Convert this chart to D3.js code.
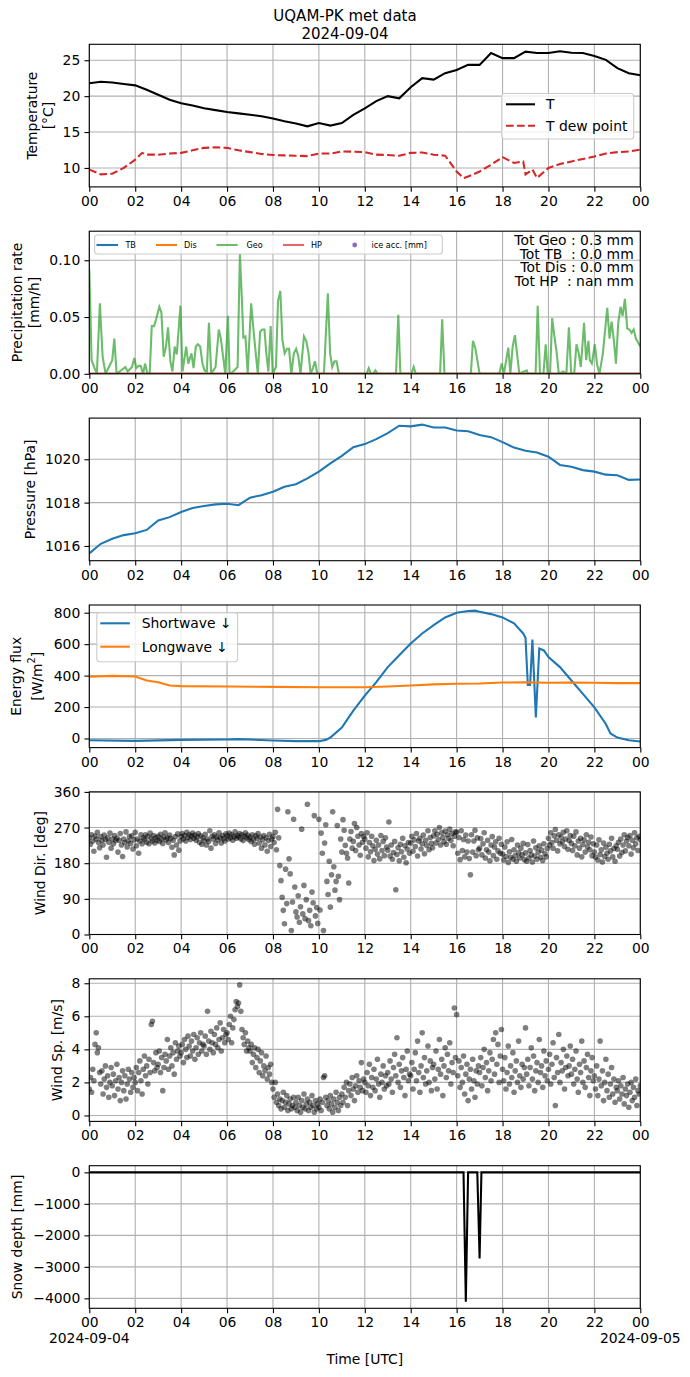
<!DOCTYPE html>
<html>
<head>
<meta charset="utf-8">
<script src="https://cdn.jsdelivr.net/npm/d3@7"></script>
<style>
  body { margin: 0; background: #fff; }
  svg { display: block; font-family: "DejaVu Sans", sans-serif; }
</style>
</head>
<body>
<svg width="690" height="1377"></svg>
<script>
// ---- data (hours UTC from 2024-09-04 00:00) ----
const halfHours = d3.range(0, 24.01, 0.5);
const tempT = [21.8, 22.0, 21.9, 21.7, 21.5, 20.9, 20.2, 19.5, 19.0, 18.7, 18.3, 18.05, 17.8, 17.6, 17.4, 17.2,
  16.9, 16.5, 16.2, 15.8, 16.25, 15.9, 16.25, 17.4, 18.3, 19.3, 20.0, 19.7, 21.25, 22.5, 22.3, 23.2, 23.65,
  24.35, 24.35, 26.0, 25.3, 25.3, 26.2, 26.0, 26.0, 26.25, 26.05, 26.0, 25.6, 25.05, 23.9, 23.2, 22.9];
const dewHours = [0, 0.5, 1, 1.5, 2, 2.3, 2.5, 3, 3.5, 4, 4.5, 5, 5.5, 6, 6.5, 7, 7.5, 8, 8.5, 9, 9.5, 10, 10.5,
  11, 11.5, 12, 12.5, 13, 13.5, 14, 14.5, 15, 15.5, 16, 16.3, 16.5, 17, 17.5, 18, 18.5, 18.9, 19, 19.3, 19.5,
  20, 20.5, 21, 21.5, 22, 22.5, 23, 23.5, 24];
const dewPoint = [9.77, 9.1, 9.2, 10.0, 11.15, 12.1, 11.85, 11.85, 12.0, 12.1, 12.45, 12.8, 12.87, 12.8, 12.45,
  12.2, 11.95, 11.8, 11.75, 11.7, 11.65, 12.0, 12.0, 12.3, 12.27, 12.2, 11.85, 11.8, 11.7, 12.1, 12.15, 11.85,
  11.7, 9.5, 8.6, 8.8, 9.5, 10.45, 11.5, 10.7, 10.9, 9.1, 9.77, 8.6, 10.0, 10.55, 10.9, 11.25, 11.6, 12.0,
  12.2, 12.3, 12.55];

const geoRate = [[0, 0.092], [0.1, 0.012], [0.23, 0.005], [0.33, 0], [0.46, 0.062], [0.58, 0.015], [0.71, 0],
  [1.0, 0.012], [1.09, 0.031], [1.19, 0], [1.57, 0.006], [1.67, 0.002], [1.86, 0.006], [1.96, 0.014],
  [2.05, 0.005], [2.15, 0.007], [2.24, 0.007], [2.34, 0], [2.43, 0.009], [2.53, 0], [2.63, 0], [2.72, 0.042],
  [2.82, 0.042], [2.91, 0.048], [3.05, 0.059], [3.14, 0.054], [3.24, 0.015], [3.34, 0.024], [3.43, 0.041],
  [3.53, 0.011], [3.62, 0.002], [3.72, 0.024], [3.81, 0.017], [3.97, 0.06], [4.06, 0.002], [4.22, 0.024],
  [4.31, 0.009], [4.45, 0.018], [4.54, 0.005], [4.64, 0.024], [4.73, 0.026], [4.83, 0.024], [4.93, 0.009],
  [5.02, 0.003], [5.12, 0.002], [5.21, 0.045], [5.31, 0], [5.5, 0.006], [5.64, 0.039], [5.73, 0.031],
  [5.83, 0.015], [5.92, 0], [6.04, 0.051], [6.11, 0], [6.27, 0.002], [6.46, 0.006], [6.56, 0.106],
  [6.65, 0.064], [6.71, 0.032], [6.8, 0.033], [6.9, 0], [7.05, 0.062], [7.15, 0.039], [7.25, 0.018],
  [7.34, 0], [7.44, 0.037], [7.53, 0.039], [7.63, 0.039], [7.71, 0.018], [7.8, 0.002], [7.9, 0.042],
  [7.99, 0], [8.13, 0.006], [8.22, 0.064], [8.32, 0.073], [8.41, 0.03], [8.51, 0.018], [8.61, 0.022],
  [8.7, 0.022], [8.8, 0], [8.91, 0.018], [9.01, 0.022], [9.1, 0.016], [9.2, 0], [9.35, 0.033], [9.45, 0.029],
  [9.55, 0.018], [9.64, 0], [9.74, 0.005], [9.83, 0.011], [9.93, 0], [10.22, 0], [10.39, 0.071],
  [10.49, 0.018], [10.58, 0.006], [10.68, 0.011], [10.77, 0.011], [10.87, 0], [12.08, 0], [12.17, 0.005],
  [12.27, 0], [12.36, 0], [12.46, 0.003], [12.56, 0], [13.36, 0], [13.46, 0.052], [13.55, 0], [14.03, 0],
  [14.13, 0.006], [14.22, 0], [15.28, 0], [15.37, 0.048], [15.47, 0], [16.62, 0], [16.71, 0.029],
  [16.81, 0.023], [17.0, 0], [17.86, 0], [17.96, 0.009], [18.06, 0], [18.25, 0.023], [18.34, 0],
  [18.44, 0.024], [18.54, 0.034], [18.63, 0.018], [18.73, 0], [19.05, 0.003], [19.11, 0], [19.44, 0],
  [19.53, 0.06], [19.63, 0], [19.78, 0], [19.88, 0.026], [19.97, 0], [20.07, 0], [20.16, 0.049],
  [20.26, 0.033], [20.36, 0.018], [20.45, 0], [20.64, 0.002], [20.78, 0], [20.89, 0.041], [20.99, 0],
  [21.12, 0], [21.22, 0.026], [21.32, 0.018], [21.41, 0.006], [21.55, 0.045], [21.64, 0.012],
  [21.74, 0.029], [21.8, 0.012], [21.89, 0.009], [22.02, 0.026], [22.12, 0.008], [22.22, 0], [22.37, 0.018],
  [22.56, 0.058], [22.66, 0.031], [22.75, 0.046], [22.85, 0.029], [22.94, 0.009], [23.04, 0.045],
  [23.14, 0.059], [23.23, 0.051], [23.33, 0.066], [23.43, 0.04], [23.52, 0.039], [23.62, 0.036],
  [23.71, 0.039], [23.81, 0.031], [24.0, 0.024]];
const precipTotals = ["Tot Geo : 0.3 mm", "Tot TB  : 0.0 mm", "Tot Dis : 0.0 mm", "Tot HP  : nan mm"];

const pressure = [1015.66, 1016.1, 1016.33, 1016.5, 1016.59, 1016.74, 1017.18, 1017.33, 1017.57, 1017.75,
  1017.84, 1017.92, 1017.95, 1017.88, 1018.23, 1018.34, 1018.5, 1018.73, 1018.85, 1019.12,
  1019.43, 1019.81, 1020.16, 1020.56, 1020.7, 1020.93, 1021.21, 1021.55, 1021.52, 1021.6,
  1021.47, 1021.47, 1021.33, 1021.29, 1021.12, 1021.02, 1020.79, 1020.54, 1020.39, 1020.31,
  1020.12, 1019.74, 1019.66, 1019.5, 1019.43, 1019.29, 1019.26, 1019.05, 1019.07];

const swHours = [0, 2, 4, 6, 6.5, 8, 9, 10, 10.3, 10.5, 11, 11.3, 11.5, 12, 12.5, 13, 13.5, 14, 14.5, 15, 15.5,
  16, 16.5, 16.8, 17, 17.5, 18, 18.5, 18.9, 19.0, 19.1, 19.2, 19.3, 19.45, 19.6, 19.8, 20, 20.5, 21, 21.5, 22,
  22.5, 22.7, 23, 23.5, 24];
const shortwave = [-11, -15, -9, -6, -4, -13, -17, -17, -9, 6, 70, 134, 177, 273, 358, 454, 529, 604, 668, 721,
  770, 800, 811, 813, 806, 791, 770, 732, 668, 640, 341, 341, 629, 134, 572, 560, 518, 454, 369, 284, 198,
  92, 32, 6, -11, -19];
const lwHours = [0, 1, 2, 2.5, 3, 3.5, 4, 6, 8, 10, 12, 13, 14, 15, 16, 17, 18, 19, 20, 21, 22, 23, 24];
const longwave = [393, 398, 394, 369, 358, 337, 333, 331, 328, 326, 326, 331, 337, 344, 348, 350, 356, 357,
  354, 356, 354, 352, 352];

// 3-minute samples
const windDir = [
  245, 228, 252, 236, 210, 248, 241, 258, 232, 219, 247, 238, 226, 251, 240, 195, 244, 233, 256, 218,
  241, 229, 250, 237, 243, 208, 238, 255, 226, 197, 241, 232, 259, 221, 236, 247, 230, 249, 216, 239,
  258, 224, 241, 205, 236, 252, 229, 244, 240, 252, 233, 247, 229, 256, 242, 236, 250, 231, 245, 238,
  248, 235, 253, 241, 230, 246, 257, 239, 244, 232, 251, 243, 220, 238, 201, 247, 226, 254, 213, 236,
  247, 255, 241, 250, 236, 258, 245, 252, 240, 249, 256, 243, 251, 238, 246, 255, 233, 249, 228, 244,
  237, 253, 226, 241, 235, 262, 218, 248, 241, 252, 230, 246, 239, 257, 244, 231, 250, 242, 236, 254,
  249, 241, 256, 244, 252, 238, 247, 259, 243, 250, 246, 255, 241, 252, 237, 248, 257, 244, 251, 240,
  246, 235, 252, 240, 228, 249, 243, 255, 231, 246, 218, 239, 250, 226, 244, 210, 237, 253, 222, 241,
  247, 232, 258, 214, 316, 244, 174, 136, 94, 61, 27, 165, 78, 310, 191, 153, 10, 82, 291, 120,
  57, 44, 98, 31, 70, 266, 52, 124, 40, 88, 329, 35, 61, 22, 107, 80, 300, 47, 68, 28,
  291, 62, 256, 205, 10, 231, 277, 134, 101, 185, 69, 151, 310, 171, 112, 134, 275, 147, 88, 241,
  208, 290, 263, 225, 205, 193, 130, 241, 260, 218, 235, 280, 212, 270, 248, 226, 200, 255, 233, 247,
  241, 218, 257, 196, 232, 209, 248, 224, 187, 215, 238, 203, 226, 191, 250, 212, 235, 199, 244, 221,
  213, 284, 198, 226, 190, 207, 235, 113, 202, 219, 186, 228, 209, 243, 195, 224, 181, 216, 232, 205,
  231, 248, 210, 239, 222, 255, 198, 236, 243, 216, 229, 251, 204, 238, 225, 262, 214, 245, 230, 219,
  249, 262, 231, 253, 240, 270, 226, 257, 245, 234, 261, 228, 252, 243, 266, 237, 255, 224, 248, 259,
  258, 205, 245, 189, 262, 212, 240, 196, 251, 208, 236, 192, 151, 252, 208, 236, 263, 199, 244, 214,
  218, 242, 201, 229, 257, 193, 214, 238, 208, 186, 226, 247, 199, 221, 234, 190, 211, 243, 205, 228,
  203, 188, 221, 197, 234, 182, 209, 195, 240, 190, 214, 199, 185, 226, 206, 193, 218, 201, 230, 189,
  206, 185, 227, 193, 212, 201, 183, 236, 198, 219, 190, 208, 224, 195, 213, 187, 229, 204, 196, 217,
  243, 226, 257, 232, 218, 249, 265, 238, 211, 252, 229, 246, 234, 258, 222, 241, 262, 215, 237, 250,
  230, 212, 248, 224, 259, 201, 236, 218, 243, 196, 227, 239, 208, 252, 221, 233, 214, 246, 199, 229,
  208, 195, 226, 188, 239, 202, 214, 183, 231, 197, 220, 205, 190, 228, 211, 243, 196, 217, 185, 224,
  215, 233, 198, 241, 207, 226, 252, 211, 236, 245, 224, 250, 203, 238, 219, 257, 229, 244, 212, 248,
  240];
const windSpeed = [
  1.6, 2.3, 1.4, 2.8, 2.1, 4.3, 5.0, 3.8, 4.1, 2.6, 1.9, 2.7, 1.3, 2.2, 3.0, 1.7, 2.4, 1.1, 2.0, 2.9,
  1.8, 2.5, 1.2, 2.1, 3.1, 1.6, 2.3, 0.9, 2.0, 2.7, 1.5, 2.4, 1.0, 1.9, 2.8, 2.2, 1.4, 2.6, 1.7, 2.3,
  2.0, 2.9, 1.5, 2.6, 3.3, 2.1, 1.3, 2.8, 3.6, 2.4, 3.0, 1.9, 3.4, 2.6, 5.5, 5.7, 3.2, 2.7, 3.8, 2.9,
  3.1, 3.9, 2.6, 3.5, 1.5, 2.9, 3.7, 3.3, 4.6, 2.8, 3.6, 4.1, 3.0, 3.8, 2.5, 4.4, 3.4, 3.9, 4.2, 3.6,
  3.8, 4.3, 3.2, 4.6, 4.0, 3.5, 4.8, 4.2, 3.6, 4.5, 3.9, 4.9, 3.4, 4.1, 4.7, 3.7, 4.4, 5.0, 3.9, 4.3,
  4.2, 4.8, 3.7, 6.3, 4.5, 4.0, 5.1, 4.4, 3.8, 4.9, 4.3, 5.3, 4.1, 4.6, 5.6, 3.9, 4.7, 5.2, 4.4, 4.9,
  5.0, 4.6, 5.5, 6.0, 4.4, 5.3, 5.8, 6.4, 6.9, 6.6, 6.8, 7.9, 6.3, 5.2, 4.7, 4.3, 5.0, 3.9, 4.5, 4.1,
  3.9, 4.3, 3.2, 3.7, 4.1, 2.9, 3.5, 4.0, 2.6, 3.3, 3.8, 2.4, 3.0, 2.7, 3.6, 2.2, 2.9, 2.5, 3.1, 2.0,
  1.6, 1.1, 2.0, 0.8, 1.3, 0.6, 1.0, 0.4, 0.9, 1.4, 0.5, 0.8, 1.2, 0.3, 0.7, 1.0, 0.4, 0.6, 1.1, 0.5,
  0.8, 0.3, 1.1, 0.6, 0.2, 0.9, 0.5, 1.3, 0.4, 0.7, 1.0, 0.3, 0.8, 0.5, 1.2, 0.6, 0.2, 0.9, 0.4, 0.7,
  0.5, 1.0, 0.3, 0.8, 2.3, 2.4, 1.1, 0.6, 0.9, 0.4, 1.2, 0.7, 0.2, 1.0, 0.5, 1.4, 0.8, 0.3, 1.1, 0.6,
  1.3, 0.8, 1.7, 1.1, 2.0, 0.6, 1.5, 1.9, 1.2, 2.3, 1.6, 0.9, 1.8, 2.4, 1.4, 2.1, 1.7, 3.2, 1.5, 2.2,
  2.0, 1.4, 2.6, 1.8, 3.1, 1.2, 2.3, 1.7, 2.8, 1.5, 2.2, 3.4, 1.9, 1.1, 2.5, 2.0, 3.0, 1.6, 2.4, 1.8,
  2.6, 1.9, 3.3, 2.2, 1.4, 2.9, 3.7, 2.4, 4.7, 2.0, 3.1, 1.7, 2.7, 3.5, 2.3, 1.2, 2.8, 3.9, 2.1, 2.5,
  2.4, 3.2, 1.6, 2.8, 3.8, 2.1, 4.5, 2.6, 1.4, 3.0, 5.0, 2.3, 3.5, 1.9, 2.7, 4.2, 2.0, 3.3, 1.5, 2.9,
  3.1, 2.2, 3.9, 1.6, 2.8, 4.6, 2.5, 3.4, 1.2, 3.0, 4.1, 2.3, 3.7, 2.7, 4.4, 1.9, 3.2, 2.6, 6.5, 3.5,
  6.1, 2.4, 3.3, 1.7, 2.9, 2.0, 3.6, 1.3, 2.5, 3.1, 0.9, 2.2, 2.8, 1.6, 3.4, 2.1, 1.1, 2.7, 1.9, 3.0,
  2.6, 3.5, 1.8, 2.9, 4.0, 2.3, 3.2, 1.5, 2.7, 3.8, 2.1, 3.4, 4.6, 2.5, 5.0, 3.1, 4.3, 2.0, 3.6, 5.2,
  2.8, 2.1, 3.5, 1.6, 2.6, 4.2, 1.9, 3.0, 2.3, 3.8, 1.4, 2.7, 3.3, 2.0, 4.5, 2.4, 1.7, 3.1, 2.2, 2.9,
  5.3, 2.5, 3.4, 1.8, 2.9, 4.1, 2.2, 3.6, 1.5, 2.7, 3.2, 2.0, 4.6, 2.6, 3.0, 1.7, 3.9, 2.4, 3.3, 2.1,
  2.8, 3.7, 1.9, 3.1, 4.4, 2.3, 0.6, 3.5, 2.6, 4.9, 2.0, 3.2, 2.7, 4.0, 1.6, 2.9, 3.6, 2.4, 3.0, 4.2,
  2.5, 3.4, 1.9, 2.8, 3.9, 2.2, 1.4, 3.1, 2.6, 4.5, 2.0, 3.3, 1.7, 2.9, 3.7, 2.3, 1.2, 2.7, 3.5, 2.1,
  2.4, 1.6, 3.0, 1.2, 2.2, 4.5, 1.8, 2.7, 0.9, 2.0, 3.4, 1.5, 2.5, 1.1, 1.9, 2.9, 1.3, 2.2, 0.8, 1.7,
  1.5, 2.1, 1.0, 1.8, 1.3, 2.3, 0.7, 1.6, 1.2, 1.9, 0.5, 1.4, 2.0, 0.9, 1.7, 1.1, 2.2, 0.6, 1.5, 1.3,
  1.8];

const snowHours = [0, 16.3, 16.4, 16.5, 16.9, 17.0, 17.08, 24];
const snowDepth = [0, 0, -4105, 0, 0, -2737, 0, 0];

// ---- layout ----
const svg = d3.select("svg");
const marginLeft = 89.3;
const plotWidth = 551;
const panelTops = [44.3, 231.2, 418.1, 605, 791.9, 978.8, 1165.7];
const panelHeight = 142.6;
const fontSize = 13.9;
const tickLen = 4.86;

const t0 = Date.UTC(2024, 8, 4);
const toDate = (h) => new Date(t0 + h * 3600e3);
const x = d3
  .scaleUtc()
  .domain([toDate(0), toDate(24)])
  .range([marginLeft, marginLeft + plotWidth]);
const xTicks = d3.range(0, 25, 2).map(toDate);

function styleAxis(g) {
  g.select(".domain").remove();
  g.selectAll(".tick line").attr("stroke", "#000").attr("stroke-width", 1.1);
  g.selectAll(".tick text")
    .attr("fill", "#000")
    .attr("font-size", fontSize)
    .attr("font-family", '"DejaVu Sans", sans-serif');
}

function panel(i, domain, yTicks, yFormat) {
  const g = svg.append("g").attr("transform", `translate(0,${panelTops[i]})`);
  const y = d3.scaleLinear().domain(domain).range([panelHeight, 0]);
  const grid = g.append("g").attr("stroke", "#b0b0b0").attr("stroke-width", 1.1);
  grid
    .selectAll(".vx")
    .data(xTicks)
    .join("line")
    .attr("x1", (d) => x(d))
    .attr("x2", (d) => x(d))
    .attr("y1", 0)
    .attr("y2", panelHeight);
  grid
    .selectAll(".hy")
    .data(yTicks)
    .join("line")
    .attr("x1", marginLeft)
    .attr("x2", marginLeft + plotWidth)
    .attr("y1", (d) => y(d))
    .attr("y2", (d) => y(d));
  g.append("clipPath")
    .attr("id", "clip" + i)
    .append("rect")
    .attr("x", marginLeft)
    .attr("y", 0)
    .attr("width", plotWidth)
    .attr("height", panelHeight);
  const plot = g.append("g").attr("clip-path", `url(#clip${i})`);
  g.append("g")
    .attr("transform", `translate(0,${panelHeight})`)
    .call(
      d3.axisBottom(x).tickValues(xTicks).tickFormat(d3.utcFormat("%H")).tickSize(tickLen).tickPadding(4.2),
    )
    .call(styleAxis);
  g.append("g")
    .attr("transform", `translate(${marginLeft},0)`)
    .call(d3.axisLeft(y).tickValues(yTicks).tickFormat(yFormat).tickSize(tickLen).tickPadding(4.2))
    .call(styleAxis);
  g.append("rect")
    .attr("x", marginLeft)
    .attr("y", 0)
    .attr("width", plotWidth)
    .attr("height", panelHeight)
    .attr("fill", "none")
    .attr("stroke", "#000")
    .attr("stroke-width", 1.1);
  return { g, plot, y };
}

function yLabel(g, lines, xs) {
  lines.forEach((txt, k) => {
    const t = g
      .append("text")
      .attr("transform", `translate(${xs[k]},${panelHeight / 2})rotate(-90)`)
      .attr("text-anchor", "middle")
      .attr("dominant-baseline", "central")
      .attr("font-size", fontSize)
      .attr("fill", "#000");
    if (Array.isArray(txt)) {
      t.append("tspan").text(txt[0]);
      t.append("tspan").attr("baseline-shift", "super").attr("font-size", fontSize * 0.7).text(txt[1]);
      t.append("tspan").text(txt[2]);
    } else {
      t.text(txt);
    }
  });
}

function legend(g, box, items, fs) {
  const lg = g.append("g");
  lg.append("rect")
    .attr("x", box[0])
    .attr("y", box[1])
    .attr("width", box[2])
    .attr("height", box[3])
    .attr("rx", 3)
    .attr("fill", "#fff")
    .attr("fill-opacity", 0.8)
    .attr("stroke", "#cccccc")
    .attr("stroke-width", 1.1);
  items.forEach((it) => {
    if (it.dot) {
      lg.append("circle").attr("cx", it.x1).attr("cy", it.y).attr("r", 2.4).attr("fill", it.color);
    } else {
      lg.append("line")
        .attr("x1", it.x1)
        .attr("x2", it.x2)
        .attr("y1", it.y)
        .attr("y2", it.y)
        .attr("stroke", it.color)
        .attr("stroke-opacity", it.opacity || 1)
        .attr("stroke-width", 2.08)
        .attr("stroke-dasharray", it.dash || null);
    }
    lg.append("text")
      .attr("x", it.tx)
      .attr("y", it.y)
      .attr("dominant-baseline", "central")
      .attr("font-size", fs)
      .attr("fill", "#000")
      .text(it.label);
  });
}

// title, two lines
const title = svg.append("text").attr("text-anchor", "middle").attr("font-size", 15);
title.append("tspan").attr("x", 345).attr("y", 21).text("UQAM-PK met data");
title.append("tspan").attr("x", 345).attr("y", 38.7).text("2024-09-04");

// ---- panel 1 temperature ----
{
  const { g, plot, y } = panel(0, [7.36, 27.22], [10, 15, 20, 25], d3.format("d"));
  const line = d3.line().x((d) => x(toDate(d[0]))).y((d) => y(d[1]));
  plot.append("path")
    .attr("d", line(halfHours.map((h, k) => [h, tempT[k]])))
    .attr("fill", "none").attr("stroke", "#000").attr("stroke-width", 2.08);
  plot.append("path")
    .attr("d", line(dewHours.map((h, k) => [h, dewPoint[k]])))
    .attr("fill", "none").attr("stroke", "#d62728").attr("stroke-width", 2.08)
    .attr("stroke-dasharray", "7.7,3.3");
  yLabel(g, ["Temperature", "[°C]"], [32, 48]);
  legend(g, [501.7, 93.5 - 44.3, 132, 45.5], [
    { x1: 506, x2: 535, tx: 546, y: 104.3 - 44.3, color: "#000", label: "T" },
    { x1: 506, x2: 535, tx: 546, y: 125.7 - 44.3, color: "#d62728", dash: "7.7,3.3", label: "T dew point" },
  ], fontSize);
}

// ---- panel 2 precipitation ----
{
  const { g, plot, y } = panel(1, [0, 0.1256], [0, 0.05, 0.1], d3.format(".2f"));
  const line = d3.line().x((d) => x(toDate(d[0]))).y((d) => y(d[1]));
  const zero = [[0, 0], [24, 0]];
  plot.append("path").attr("d", line(zero)).attr("fill", "none").attr("stroke", "#1f77b4").attr("stroke-width", 2.08);
  plot.append("path").attr("d", line(zero)).attr("fill", "none").attr("stroke", "#ff7f0e").attr("stroke-width", 2.08);
  plot.append("path").attr("d", line(geoRate)).attr("fill", "none").attr("stroke", "#2ca02c")
    .attr("stroke-opacity", 0.7).attr("stroke-width", 2.08);
  plot.append("path").attr("d", line(zero)).attr("fill", "none").attr("stroke", "#d62728")
    .attr("stroke-opacity", 0.7).attr("stroke-width", 2.08);
  yLabel(g, ["Precipitation rate", "[mm/h]"], [17, 34]);
  const top = 231.2;
  legend(g, [94.6, 235 - top, 347.7, 19], [
    { x1: 96.5, x2: 118, tx: 125.4, y: 245 - top, color: "#1f77b4", label: "TB" },
    { x1: 156, x2: 177, tx: 184, y: 245 - top, color: "#ff7f0e", label: "Dis" },
    { x1: 216.5, x2: 237.6, tx: 246.5, y: 245 - top, color: "#2ca02c", opacity: 0.7, label: "Geo" },
    { x1: 283, x2: 304, tx: 311, y: 245 - top, color: "#d62728", opacity: 0.7, label: "HP" },
    { x1: 354.7, dot: true, tx: 371.5, y: 245 - top, color: "#9467bd", label: "ice acc. [mm]" },
  ], 8.1);
  g.append("g")
    .selectAll("text")
    .data(precipTotals)
    .join("text")
    .attr("x", 633.7)
    .attr("y", (d, k) => 240.3 - top + k * 13.6)
    .attr("text-anchor", "end")
    .attr("dominant-baseline", "central")
    .attr("font-size", fontSize)
    .style("white-space", "pre")
    .text((d) => d);
}

// ---- panel 3 pressure ----
{
  const { g, plot, y } = panel(2, [1015.32, 1021.9], [1016, 1018, 1020], d3.format("d"));
  const line = d3.line().x((d) => x(toDate(d[0]))).y((d) => y(d[1]));
  plot.append("path")
    .attr("d", line(halfHours.map((h, k) => [h, pressure[k]])))
    .attr("fill", "none").attr("stroke", "#1f77b4").attr("stroke-width", 2.08);
  yLabel(g, ["Pressure [hPa]"], [29.5]);
}

// ---- panel 4 radiation ----
{
  const { g, plot, y } = panel(3, [-58, 849], [0, 200, 400, 600, 800], d3.format("d"));
  const line = d3.line().x((d) => x(toDate(d[0]))).y((d) => y(d[1]));
  plot.append("path")
    .attr("d", line(swHours.map((h, k) => [h, shortwave[k]])))
    .attr("fill", "none").attr("stroke", "#1f77b4").attr("stroke-width", 2.08);
  plot.append("path")
    .attr("d", line(lwHours.map((h, k) => [h, longwave[k]])))
    .attr("fill", "none").attr("stroke", "#ff7f0e").attr("stroke-width", 2.08);
  yLabel(g, ["Energy flux", ["[W/m", "2", "]"]], [16, 37]);
  const top = 605;
  legend(g, [96.8, 612.7 - top, 140.8, 49], [
    { x1: 100.3, x2: 129.8, tx: 141.7, y: 623.3 - top, color: "#1f77b4", label: "Shortwave ↓" },
    { x1: 100.3, x2: 129.8, tx: 141.7, y: 646.7 - top, color: "#ff7f0e", label: "Longwave ↓" },
  ], fontSize);
}

// ---- panel 5 wind direction ----
const windHours = d3.range(windDir.length).map((k) => (k * 24) / (windDir.length - 1));
{
  const { g, plot, y } = panel(4, [0, 360], [0, 90, 180, 270, 360], d3.format("d"));
  plot.append("g")
    .selectAll("circle")
    .data(windDir)
    .join("circle")
    .attr("cx", (d, k) => x(toDate(windHours[k])))
    .attr("cy", (d) => y(d))
    .attr("r", 2.8)
    .attr("fill", "#000")
    .attr("fill-opacity", 0.5);
  yLabel(g, ["Wind Dir. [deg]"], [40]);
}

// ---- panel 6 wind speed ----
{
  const { g, plot, y } = panel(5, [-0.36, 8.27], [0, 2, 4, 6, 8], d3.format("d"));
  plot.append("g")
    .selectAll("circle")
    .data(windSpeed)
    .join("circle")
    .attr("cx", (d, k) => x(toDate(windHours[k])))
    .attr("cy", (d) => y(d))
    .attr("r", 2.8)
    .attr("fill", "#000")
    .attr("fill-opacity", 0.5);
  yLabel(g, ["Wind Sp. [m/s]"], [56.5]);
}

// ---- panel 7 snow depth ----
{
  const { g, plot, y } = panel(6, [-4316, 211], [-4000, -3000, -2000, -1000, 0], d3.format("d"));
  const line = d3.line().x((d) => x(toDate(d[0]))).y((d) => y(d[1]));
  plot.append("path")
    .attr("d", line(snowHours.map((h, k) => [h, snowDepth[k]])))
    .attr("fill", "none").attr("stroke", "#000").attr("stroke-width", 2.08);
  yLabel(g, ["Snow depth [mm]"], [17]);
  g.selectAll(".datelbl")
    .data([[0, "2024-09-04"], [24, "2024-09-05"]])
    .join("text")
    .attr("x", (d) => x(toDate(d[0])))
    .attr("y", 1338 - 1165.7)
    .attr("text-anchor", "middle")
    .attr("dominant-baseline", "central")
    .attr("font-size", fontSize)
    .text((d) => d[1]);
  g.append("text")
    .attr("x", marginLeft + plotWidth / 2)
    .attr("y", 1359 - 1165.7)
    .attr("text-anchor", "middle")
    .attr("dominant-baseline", "central")
    .attr("font-size", fontSize)
    .text("Time [UTC]");
}
</script>
</body>
</html>
